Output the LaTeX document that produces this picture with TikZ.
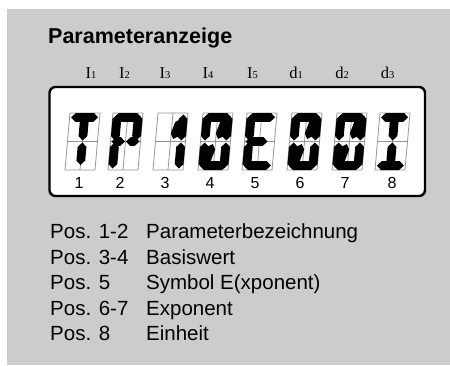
\documentclass[tikz,border=0pt]{standalone}
\usepackage{fontspec}
\setmainfont{Liberation Sans}
\newfontfamily\labserif{Liberation Serif}
\usetikzlibrary{calc}
\definecolor{bggrey}{RGB}{204,204,204}
\definecolor{cellgrey}{RGB}{150,150,150}
\def\segh{4.4pt}
\newcommand\dseg[2]{\fill[black] (#1) -- ($(#1)!\segh!(#2)!\segh!90:(#2)$) -- ($(#2)!\segh!(#1)!\segh!-90:(#1)$) -- (#2) -- ($(#2)!\segh!(#1)!\segh!90:(#1)$) -- ($(#1)!\segh!(#2)!\segh!-90:(#2)$) -- cycle;}
\newcommand\sgA{\dseg{1.5,52.6}{28.5,52.6}}
\newcommand\sgD{\dseg{1.5,4.4}{28.5,4.4}}
\newcommand\sgF{\dseg{4.4,55.5}{4.4,29.5}}
\newcommand\sgE{\dseg{4.4,27.5}{4.4,1.5}}
\newcommand\sgB{\dseg{25.6,55.5}{25.6,29.5}}
\newcommand\sgC{\dseg{25.6,27.5}{25.6,1.5}}
\newcommand\sgGa{\dseg{1,28.5}{14.5,28.5}}
\newcommand\sgGb{\dseg{15.5,28.5}{29,28.5}}
\newcommand\sgGE{\dseg{1,28.5}{23,28.5}}
\newcommand\sgH{\dseg{15,52}{15,29.5}}
\newcommand\sgI{\dseg{15,27.5}{15,5}}
\newcommand\sgUR{\dseg{17.5,31}{23.5,51}}
\newcommand\sgLL{\dseg{12.5,26}{6.5,6}}
\newcommand\lcdcell[2]{%
\begin{scope}[shift={(#1,195)}]
\begin{scope}[xslant=0.0877]
\draw[cellgrey, line width=0.8pt] (0,0) rectangle (30,57) (0,28.5) -- (30,28.5) (15,0) -- (15,57);
#2
\end{scope}
\end{scope}}
\tikzset{
  lab/.style={anchor=base, inner sep=0pt, font=\labserif\fontsize{16.5}{17}\selectfont},
  num/.style={anchor=base, inner sep=0pt, font=\fontsize{16}{17}\selectfont},
  leg/.style={anchor=base west, inner sep=0pt, font=\fontsize{20.5}{21}\selectfont},
}
\newcommand\subd[1]{{\fontsize{10.5}{11}\selectfont #1}}
\begin{document}
\begin{tikzpicture}[x=1pt,y=1pt]
\useasboundingbox (0,0) rectangle (450,365);
\fill[white] (0,0) rectangle (450,365);
\fill[bggrey] (7,0) rectangle (450,356);
\node[anchor=base west, inner sep=0pt, font=\bfseries\fontsize{21.5}{23}\selectfont] (title) at (48,321) {Parameteranzeige};
\node[lab] (l1) at (91,287) {I\subd{1}};
\node[lab] (l2) at (124.5,287) {I\subd{2}};
\node[lab] (l3) at (165,287) {I\subd{3}};
\node[lab] (l4) at (208,287) {I\subd{4}};
\node[lab] (l5) at (252.5,287) {I\subd{5}};
\node[lab] (l6) at (296,287) {d\subd{1}};
\node[lab] (l7) at (342,287) {d\subd{2}};
\node[lab] (l8) at (387.5,287) {d\subd{3}};
\draw[line width=2.4pt, rounded corners=6pt, fill=white] (49.5,169) rectangle (425,278);
\lcdcell{65}{\sgA\sgH\sgI}
\lcdcell{108}{\sgA\sgB\sgF\sgGa\sgGb\sgE}
\lcdcell{153}{\sgB\sgC\sgUR}
\lcdcell{198}{\sgA\sgB\sgC\sgD\sgE\sgF\sgUR\sgLL}
\lcdcell{242}{\sgA\sgF\sgE\sgD\sgGE}
\lcdcell{287}{\sgA\sgB\sgC\sgD\sgE\sgF\sgUR\sgLL}
\lcdcell{332}{\sgA\sgB\sgC\sgD\sgE\sgF\sgUR\sgLL}
\lcdcell{375}{\sgA\sgH\sgI\sgD}
\node[num] (n1) at (79,177) {1};
\node[num] (n2) at (120,177) {2};
\node[num] (n3) at (165,177) {3};
\node[num] (n4) at (210,177) {4};
\node[num] (n5) at (255,177) {5};
\node[num] (n6) at (300,177) {6};
\node[num] (n7) at (345,177) {7};
\node[num] (n8) at (392,177) {8};
\node[leg] (p1) at (50,127) {Pos. 1-2};
\node[leg] (t1) at (146,127) {Parameterbezeichnung};
\node[leg] (p2) at (50,101) {Pos. 3-4};
\node[leg] (t2) at (146,101) {Basiswert};
\node[leg] (p3) at (50,76) {Pos. 5};
\node[leg] (t3) at (146,76) {Symbol E(xponent)};
\node[leg] (p4) at (50,50) {Pos. 6-7};
\node[leg] (t4) at (146,50) {Exponent};
\node[leg] (p5) at (50,25) {Pos. 8};
\node[leg] (t5) at (146,25) {Einheit};
\end{tikzpicture}
\end{document}
